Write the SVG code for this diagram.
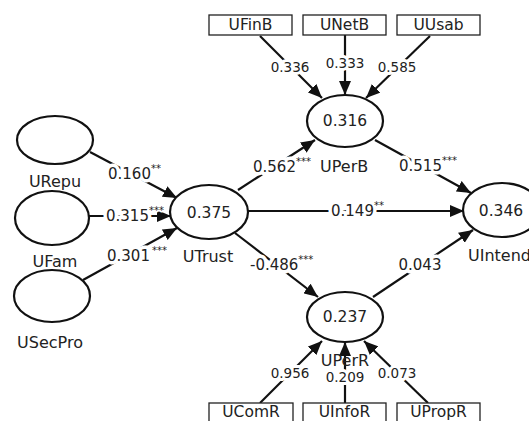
<svg xmlns="http://www.w3.org/2000/svg" width="529" height="421" viewBox="0 0 529 421">
<style>
text{font-family:"DejaVu Sans","Liberation Sans",sans-serif;fill:#222}
.n{fill:#fff;stroke:#111;stroke-width:2.2}
.b{fill:#fff;stroke:#222;stroke-width:1.3}
.c{stroke:#111;stroke-width:2.2;fill:none;marker-end:url(#ah)}
.l{font-size:15px;stroke:#fff;stroke-width:7;paint-order:stroke;stroke-linejoin:round}
.o{font-size:13.5px;text-anchor:middle;stroke:#fff;stroke-width:6;paint-order:stroke;stroke-linejoin:round}
.v{font-size:15.5px;text-anchor:middle}
.nl{font-size:16px}
.bt{font-size:15.5px;text-anchor:middle}
.s{font-size:10px;stroke-width:3}
</style>
<defs>
<marker id="ah" markerUnits="userSpaceOnUse" markerWidth="15" markerHeight="12" refX="14" refY="6" orient="auto">
<path d="M0,0 L14,6 L0,12 z" fill="#111"/>
</marker>
</defs>
<g id="connectors">
<line class="c" x1="260" y1="36" x2="322" y2="98"/>
<line class="c" x1="345" y1="35" x2="345" y2="95"/>
<line class="c" x1="430" y1="36" x2="366" y2="98"/>
<line class="c" x1="238" y1="190" x2="315" y2="140"/>
<line class="c" x1="375" y1="140" x2="471" y2="193"/>
<line class="c" x1="248" y1="211" x2="464" y2="211"/>
<line class="c" x1="235" y1="233" x2="318" y2="297"/>
<line class="c" x1="373" y1="297" x2="473" y2="230"/>
<line class="c" x1="260" y1="403" x2="322" y2="341"/>
<line class="c" x1="345" y1="403" x2="345" y2="342"/>
<line class="c" x1="428" y1="403" x2="364" y2="341"/>
<line class="c" x1="90" y1="152" x2="177" y2="198"/>
<line class="c" x1="89" y1="216" x2="171" y2="216"/>
<line class="c" x1="83" y1="280" x2="177" y2="228"/>
<text class="o" x="290" y="72">0.336</text>
<text class="o" x="345" y="68">0.333</text>
<text class="o" x="397" y="72">0.585</text>
<text class="o" x="290" y="378">0.956</text>
<text class="o" x="345" y="382">0.209</text>
<text class="o" x="397" y="378">0.073</text>
<text class="l" x="108" y="179">0.160<tspan class="s" dy="-7">**</tspan></text>
<text class="l" x="106" y="221">0.315<tspan class="s" dy="-7">***</tspan></text>
<text class="l" x="107" y="261">0.301<tspan class="s" dx="2" dy="-7">***</tspan></text>
<text class="l" x="253" y="172">0.562<tspan class="s" dy="-7">***</tspan></text>
<text class="l" x="399" y="171">0.515<tspan class="s" dy="-7">***</tspan></text>
<text class="l" x="331" y="216">0.149<tspan class="s" dy="-7">**</tspan></text>
<text class="l" x="250" y="270">-0.486<tspan class="s" dy="-7">***</tspan></text>
<text class="l" x="420" y="270" text-anchor="middle">0.043</text>
</g>
<g id="UFinB"><rect class="b" x="209" y="15" width="83" height="20"/><text class="bt" x="250.5" y="30">UFinB</text></g>
<g id="UNetB"><rect class="b" x="303" y="15" width="83" height="20"/><text class="bt" x="344.5" y="30">UNetB</text></g>
<g id="UUsab"><rect class="b" x="397" y="15" width="83" height="20"/><text class="bt" x="438.5" y="30">UUsab</text></g>
<g id="UComR"><rect class="b" x="209" y="403" width="84" height="21"/><text class="bt" x="251" y="417">UComR</text></g>
<g id="UInfoR"><rect class="b" x="303" y="403" width="83" height="21"/><text class="bt" x="344.5" y="417">UInfoR</text></g>
<g id="UPropR"><rect class="b" x="397" y="403" width="83" height="21"/><text class="bt" x="438.5" y="417">UPropR</text></g>
<g id="URepu"><ellipse class="n" cx="55" cy="140" rx="38" ry="24"/><text class="nl" x="55" y="187" text-anchor="middle">URepu</text></g>
<g id="UFam"><ellipse class="n" cx="52" cy="218" rx="37" ry="27"/><text class="nl" x="55" y="267" text-anchor="middle">UFam</text></g>
<g id="USecPro"><ellipse class="n" cx="52" cy="296" rx="38" ry="26"/><text class="nl" x="50" y="348" text-anchor="middle">USecPro</text></g>
<g id="UTrust"><ellipse class="n" cx="209" cy="212" rx="39" ry="27"/><text class="v" x="209" y="218">0.375</text><text class="nl" x="208" y="262" text-anchor="middle">UTrust</text></g>
<g id="UPerB"><ellipse class="n" cx="345" cy="121" rx="38" ry="26"/><text class="v" x="345" y="126">0.316</text><text class="nl" x="320" y="172">UPerB</text></g>
<g id="UIntend"><ellipse class="n" cx="502" cy="210" rx="39" ry="27"/><text class="v" x="501" y="216">0.346</text><text class="nl" x="468" y="261">UIntend</text></g>
<g id="UPerR"><ellipse class="n" cx="345" cy="317" rx="38" ry="25" stroke-width="3.2"/><text class="v" x="345" y="322">0.237</text><text class="nl" x="345" y="366" text-anchor="middle">UPerR</text></g>
</svg>
